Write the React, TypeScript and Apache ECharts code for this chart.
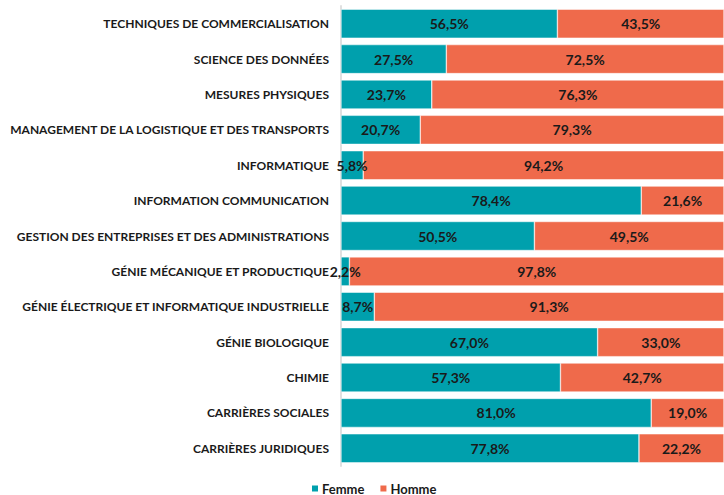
import React, { useEffect, useRef } from "react";
import * as echarts from "echarts";

const categories = [
  "TECHNIQUES DE COMMERCIALISATION",
  "SCIENCE DES DONNÉES",
  "MESURES PHYSIQUES",
  "MANAGEMENT DE LA LOGISTIQUE ET DES TRANSPORTS",
  "INFORMATIQUE",
  "INFORMATION COMMUNICATION",
  "GESTION DES ENTREPRISES ET DES ADMINISTRATIONS",
  "GÉNIE MÉCANIQUE ET PRODUCTIQUE",
  "GÉNIE ÉLECTRIQUE ET INFORMATIQUE INDUSTRIELLE",
  "GÉNIE BIOLOGIQUE",
  "CHIMIE",
  "CARRIÈRES SOCIALES",
  "CARRIÈRES JURIDIQUES",
];
const femme = [56.5, 27.5, 23.7, 20.7, 5.8, 78.4, 50.5, 2.2, 8.7, 67.0, 57.3, 81.0, 77.8];
const homme = [43.5, 72.5, 76.3, 79.3, 94.2, 21.6, 49.5, 97.8, 91.3, 33.0, 42.7, 19.0, 22.2];

const FONT = "Lato";
const fmt = (p: any) => Number(p.value).toFixed(1).replace(".", ",") + "%";

export default function App() {
  const ref = useRef<HTMLDivElement>(null);
  useEffect(() => {
    const chart = echarts.init(ref.current!, null, { renderer: "svg" });
    const label = {
      show: true,
      position: "inside" as const,
      formatter: fmt,
      color: "#1a1a1a",
      fontFamily: FONT,
      fontWeight: "bold" as const,
      fontSize: 14,
    };
    chart.setOption({
      animation: false,
      textStyle: { fontFamily: FONT },
      grid: { left: 341, right: 0, top: 6, bottom: 29, containLabel: false },
      legend: {
        top: 482,
        left: 310,
        padding: 0,
        itemWidth: 8,
        itemHeight: 8,
        itemGap: 14,
        icon: "rect",
        textStyle: {
          fontFamily: FONT,
          fontWeight: "bold",
          fontSize: 13,
          lineHeight: 13,
          color: "#1a1a1a",
          padding: [0, 0, 0, -2],
        },
        data: ["Femme", "Homme"],
      },
      xAxis: {
        type: "value",
        min: 0,
        max: 100,
        show: false,
      },
      yAxis: {
        type: "category",
        data: categories,
        inverse: true,
        axisLine: { show: true, lineStyle: { color: "#e0e0e0", width: 2 } },
        axisTick: { show: false },
        axisLabel: {
          fontFamily: FONT,
          fontWeight: "bold",
          fontSize: 12,
          color: "#1a1a1a",
          margin: 12,
        },
      },
      series: [
        {
          name: "Femme",
          type: "bar",
          stack: "total",
          data: femme,
          barCategoryGap: "18%",
          itemStyle: { color: "#00a0ad", borderColor: "#ffffff", borderWidth: 0.5 },
          label,
        },
        {
          name: "Homme",
          type: "bar",
          stack: "total",
          data: homme,
          itemStyle: { color: "#ef6a4b", borderColor: "#ffffff", borderWidth: 0.5 },
          label,
        },
      ],
    });
    return () => chart.dispose();
  }, []);
  return <div ref={ref} style={{ width: 724, height: 495, position: "absolute", left: 0, top: 0 }} />;
}
